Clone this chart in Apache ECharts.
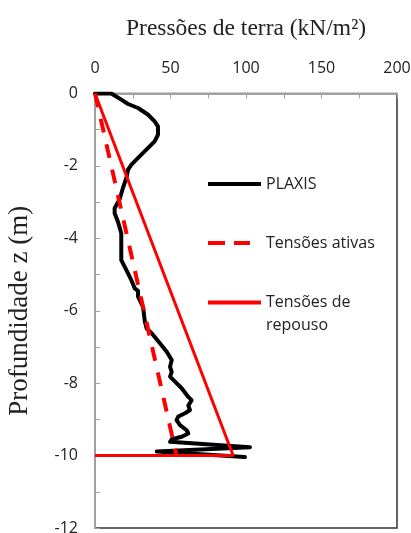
<!DOCTYPE html>
<html>
<head>
<meta charset="utf-8">
<script src="https://cdn.jsdelivr.net/npm/echarts@6/dist/echarts.min.js"></script>
<style>
  html, body { margin: 0; padding: 0; background: #fff; }
  #chart { width: 411px; height: 533px; }
</style>
</head>
<body>
<div id="chart"></div>
<script>
// pressão (kN/m2), profundidade z (m)
const plaxis = [
  [0, 0], [10.8, 0], [17.4, -0.17], [21.9, -0.29], [28.5, -0.4], [35, -0.58],
  [39.5, -0.77], [41.7, -0.91], [41.7, -1.14], [39.5, -1.32], [34, -1.55],
  [28.5, -1.78], [24, -1.97], [21.9, -2.1], [20.8, -2.33], [18.5, -2.61],
  [16.3, -2.92], [13, -3.17], [13, -3.31], [15.2, -3.54], [17.4, -3.86],
  [17.4, -4.23], [17.4, -4.6], [20.8, -4.88], [24, -5.15], [26.3, -5.38],
  [28.5, -5.45], [28.5, -5.61], [31.8, -5.89], [33, -6.3], [34.2, -6.49],
  [37.5, -6.62], [43, -6.9], [47.5, -7.13], [50.8, -7.36], [49.7, -7.55],
  [50.8, -7.69], [49.7, -7.82], [53, -7.96], [57.4, -8.14], [61.8, -8.38],
  [64, -8.47], [61.8, -8.62], [62.9, -8.74], [59.6, -8.83], [55.2, -8.92],
  [54, -9.02], [56.3, -9.16], [60.7, -9.3], [61.8, -9.39], [57.4, -9.48],
  [50.8, -9.55], [49.7, -9.62], [102.6, -9.77], [40.9, -9.89], [99.3, -10.04]
];
const ativas = [[0, 0], [54, -10]];
const repouso = [[0, 0], [91.5, -10], [0, -10]];

const xMin = 0, xMax = 200, xStep = 25, xLabelStep = 50;
const yMin = -12, yMax = 0, yStep = 1, yLabelStep = 2;

const seriesNames = ['PLAXIS', 'Tensões ativas', 'Tensões de repouso'];

const chart = echarts.init(document.getElementById('chart'));

const labelFont = { fontFamily: 'Open Sans', fontSize: 16, color: '#222' };
const gray = '#a0a0a0';

chart.setOption({
  animation: false,
  // dark frame for right/bottom; top and left axis lines are drawn grey over it
  grid: {
    left: 95, right: 14, top: 93.5, bottom: 5, outerBoundsMode: 'none',
    show: true, borderColor: '#333', borderWidth: 1.5
  },
  legend: [
    {
      data: [{ name: seriesNames[0], icon: 'path://M0,0H53V4H0Z' }],
      left: 203, top: 171, itemWidth: 53, itemHeight: 4,
      textStyle: labelFont, selectedMode: false
    },
    {
      data: [{ name: seriesNames[1], icon: 'path://M0,0H17V4H0Z M26,0H42V4H26Z M53,0H53V4H53Z' }],
      left: 203, top: 230, itemWidth: 53, itemHeight: 4,
      textStyle: labelFont, selectedMode: false
    },
    {
      // blank first line keeps the icon level with "Tensões de"
      data: [{ name: seriesNames[2], icon: 'path://M0,0H53V4H0Z' }],
      left: 203, top: 263, itemWidth: 53, itemHeight: 4,
      formatter: () => ' \nTensões de\nrepouso',
      textStyle: Object.assign({ lineHeight: 23 }, labelFont),
      selectedMode: false
    }
  ],
  xAxis: {
    type: 'value', position: 'top', min: xMin, max: xMax, interval: xStep,
    name: 'Pressões de terra (kN/m²)', nameLocation: 'middle', nameGap: 53,
    nameTextStyle: { fontFamily: 'Liberation Serif', fontSize: 23.5, color: '#222' },
    axisLine: { show: true, onZero: false, lineStyle: { color: gray, width: 2 } },
    axisTick: { show: true, inside: true, length: 5, lineStyle: { color: gray } },
    axisLabel: Object.assign({ margin: 17, formatter: v => (v % xLabelStep === 0 ? String(v) : '') }, labelFont),
    splitLine: { show: false }
  },
  yAxis: {
    type: 'value', min: yMin, max: yMax, interval: yStep,
    name: 'Profundidade z (m)', nameLocation: 'middle', nameGap: 62,
    nameTextStyle: { fontFamily: 'Liberation Serif', fontSize: 27, color: '#222' },
    axisLine: { show: true, onZero: false, lineStyle: { color: gray, width: 2 } },
    axisTick: { show: true, inside: true, length: 5, lineStyle: { color: gray } },
    axisLabel: Object.assign({ margin: 17, formatter: v => (v % yLabelStep === 0 ? String(v) : '') }, labelFont),
    splitLine: { show: false }
  },
  series: [
    {
      name: seriesNames[0], type: 'line', data: plaxis, symbol: 'none',
      color: '#000', lineStyle: { color: '#000', width: 4, join: 'round', cap: 'round' }
    },
    {
      name: seriesNames[1], type: 'line', data: ativas, symbol: 'none',
      color: '#ff0000', lineStyle: { color: '#ff0000', width: 4, type: [14, 12] }
    },
    {
      name: seriesNames[2], type: 'line', data: repouso, symbol: 'none',
      color: '#ff0000', lineStyle: { color: '#ff0000', width: 3 }
    }
  ]
});
</script>
</body>
</html>
